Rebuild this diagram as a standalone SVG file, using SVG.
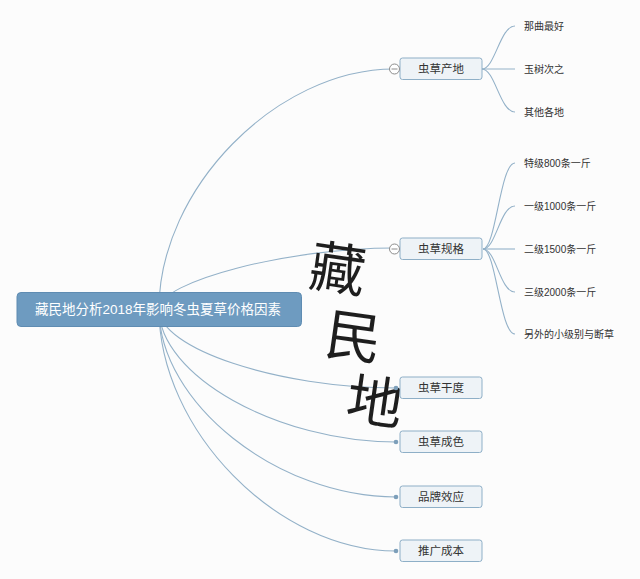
<svg xmlns="http://www.w3.org/2000/svg" width="640" height="579" viewBox="0 0 640 579">
<style>
  .bg{fill:#fcfcfc}
  .conn{fill:none;stroke:#93b1c8;stroke-width:1.1}
  .root rect{fill:#6e9bc0;stroke:#5f8cb2;stroke-width:1}
  .root text{fill:#ffffff;font-size:13.5px}
  .topic rect{fill:#eef3f7;stroke:#8eafc7;stroke-width:1}
  .topic text{fill:#333333;font-size:11.5px}
  .leaf text{fill:#333333;font-size:10px}
  text{font-family:"Liberation Sans","Noto Sans CJK SC",sans-serif}
  .collapse{fill:#ffffff;stroke:#8c8c8c;stroke-width:1}
  .minus{stroke:#8c8c8c;stroke-width:1}
  .dot{fill:#7d9fba}
  .wm{fill:#1e1e1e;font-size:56px;font-weight:400}
</style>
<rect class="bg" x="0" y="0" width="640" height="579"/>

<g id="connectors">
  <path class="conn" d="M159,309 C159,189 276.5,69 394,69"/>
  <path class="conn" d="M159,309 C159,281.5 288,248 394,248"/>
  <path class="conn" d="M159,309 C159,348.5 277.5,388 396,388"/>
  <path class="conn" d="M159,309 C159,375.5 277.5,442 396,442"/>
  <path class="conn" d="M159,309 C159,403 277.5,497 396,497"/>
  <path class="conn" d="M159,309 C159,430 277.5,551 396,551"/>
  <path class="conn" d="M482,69 C495,69 500,26 515,26"/>
  <path class="conn" d="M482,69 L515,69"/>
  <path class="conn" d="M482,69 C495,69 500,112 515,112"/>
  <path class="conn" d="M483,249 C496,249 500,163 515,163"/>
  <path class="conn" d="M483,249 C496,249 500,206 515,206"/>
  <path class="conn" d="M483,249 L515,249"/>
  <path class="conn" d="M483,249 C496,249 500,292 515,292"/>
  <path class="conn" d="M483,249 C496,249 500,334 515,334"/>
</g>

<g id="watermark">
  <text class="wm" x="338" y="289" text-anchor="middle" transform="rotate(8 338 267)">藏</text>
  <text class="wm" x="354" y="357" text-anchor="middle" transform="rotate(8 354 335)">民</text>
  <text class="wm" x="375" y="422" text-anchor="middle" transform="rotate(8 375 400)">地</text>
</g>

<g id="root" class="root">
  <rect x="17" y="292.5" width="284.5" height="34" rx="4"/>
  <text x="158" y="314" text-anchor="middle">藏民地分析2018年影响冬虫夏草价格因素</text>
</g>

<g id="n-chandi" class="topic">
  <rect x="400" y="58" width="82" height="21.5" rx="2.5"/>
  <text x="441" y="73" text-anchor="middle">虫草产地</text>
  <circle class="collapse" cx="394.5" cy="69" r="5"/>
  <line class="minus" x1="391.5" y1="69" x2="397.5" y2="69"/>
</g>
<g id="n-guige" class="topic">
  <rect x="400" y="238" width="82" height="21.5" rx="2.5"/>
  <text x="441" y="253" text-anchor="middle">虫草规格</text>
  <circle class="collapse" cx="394.5" cy="249" r="5"/>
  <line class="minus" x1="391.5" y1="249" x2="397.5" y2="249"/>
</g>
<g id="n-gandu" class="topic">
  <rect x="400" y="377" width="82" height="21.5" rx="2.5"/>
  <text x="441" y="392" text-anchor="middle">虫草干度</text>
  <circle class="dot" cx="396" cy="388" r="2.3"/>
</g>
<g id="n-chengse" class="topic">
  <rect x="400" y="431" width="82" height="21.5" rx="2.5"/>
  <text x="441" y="446" text-anchor="middle">虫草成色</text>
  <circle class="dot" cx="396" cy="442" r="2.3"/>
</g>
<g id="n-pinpai" class="topic">
  <rect x="400" y="486" width="82" height="21.5" rx="2.5"/>
  <text x="441" y="501" text-anchor="middle">品牌效应</text>
  <circle class="dot" cx="396" cy="497" r="2.3"/>
</g>
<g id="n-tuiguang" class="topic">
  <rect x="400" y="540" width="82" height="21.5" rx="2.5"/>
  <text x="441" y="555" text-anchor="middle">推广成本</text>
  <circle class="dot" cx="396" cy="551" r="2.3"/>
</g>

<g id="leaf-naqu" class="leaf"><text x="524" y="29.5">那曲最好</text></g>
<g id="leaf-yushu" class="leaf"><text x="524" y="72.5">玉树次之</text></g>
<g id="leaf-qita" class="leaf"><text x="524" y="115.5">其他各地</text></g>
<g id="leaf-teji" class="leaf"><text x="524" y="166.5">特级800条一斤</text></g>
<g id="leaf-yiji" class="leaf"><text x="524" y="209.5">一级1000条一斤</text></g>
<g id="leaf-erji" class="leaf"><text x="524" y="252.5">二级1500条一斤</text></g>
<g id="leaf-sanji" class="leaf"><text x="524" y="295.5">三级2000条一斤</text></g>
<g id="leaf-lingwai" class="leaf"><text x="524" y="337.5">另外的小级别与断草</text></g>
</svg>
